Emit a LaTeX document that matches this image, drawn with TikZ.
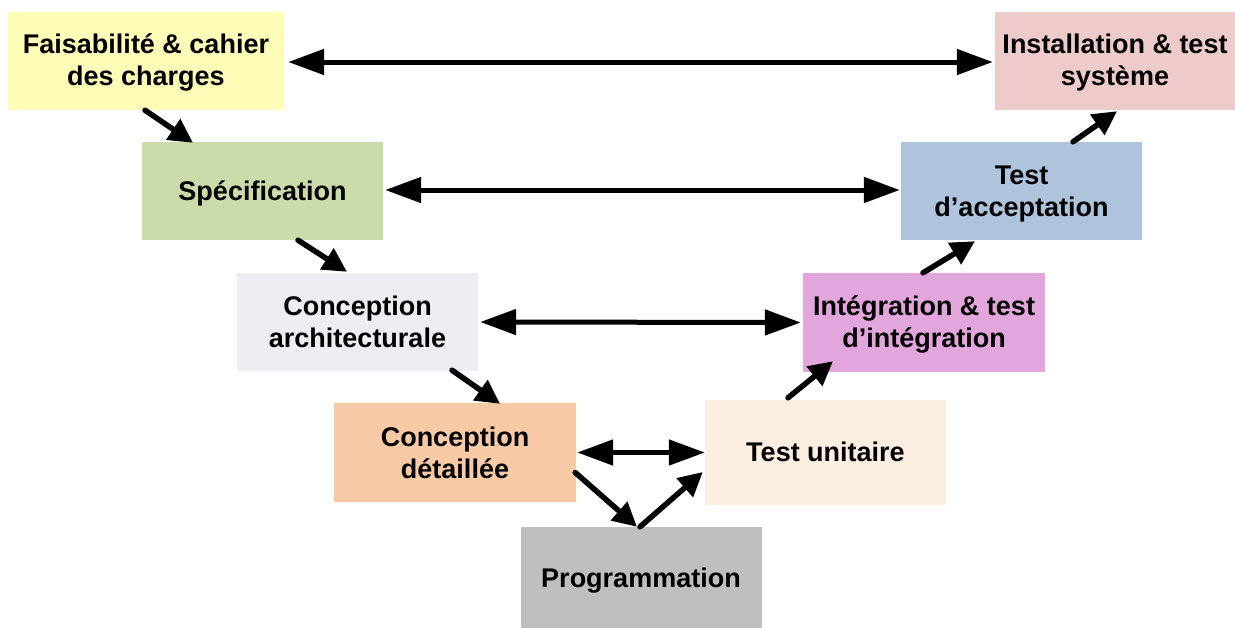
\documentclass[tikz,border=0pt]{standalone}
\usepackage{fontspec}
\setmainfont{Liberation Sans}
\usetikzlibrary{arrows.meta}

\definecolor{cFais}{HTML}{FEFDB8}
\definecolor{cSpec}{HTML}{CCDBAA}
\definecolor{cArch}{HTML}{EFEDF4}
\definecolor{cDet}{HTML}{F8CBA6}
\definecolor{cProg}{HTML}{BFBFBF}
\definecolor{cUnit}{HTML}{FDEEE2}
\definecolor{cInteg}{HTML}{E2A6DD}
\definecolor{cAcc}{HTML}{AEC3DC}
\definecolor{cInst}{HTML}{ECCBCA}

\begin{document}
\begin{tikzpicture}[x=1pt,y=-1pt,
  phase/.style={rectangle, inner sep=0pt,
    minimum width=241pt, minimum height=98pt},
  caption/.style={align=center, text=black, inner sep=0pt,
    font=\fontsize{27}{32}\selectfont\bfseries},
  pair/.style={line width=5pt,
    {Triangle[length=36pt,width=25pt]}-{Triangle[length=36pt,width=25pt]}},
  flow/.style={line width=5.5pt, line cap=round,
    -{Triangle[length=24pt,width=24pt]}}]

\useasboundingbox (0,0) rectangle (1235,627);

% descending branch of the V
\node[phase, fill=cFais, minimum width=276pt,
  label={[caption, yshift=-1pt]center:{Faisabilité \& cahier\\des charges}}] (fais) at (146,61) {};
\node[phase, fill=cSpec,
  label={[caption, yshift=-2pt]center:{Spécification}}] (spec) at (262.5,191) {};
\node[phase, fill=cArch,
  label={[caption]center:{Conception\\architecturale}}] (arch) at (357.5,322) {};
\node[phase, fill=cDet, minimum width=242pt, minimum height=99pt,
  label={[caption]center:{Conception\\détaillée}}] (det) at (455,452.5) {};
% bottom of the V (its box runs past the lower edge)
\node[phase, fill=cProg, minimum height=108pt,
  label={[caption]center:{Programmation}}] (prog) at (641,581) {};
% ascending branch of the V
\node[phase, fill=cUnit, minimum height=105pt,
  label={[caption, yshift=1pt]center:{Test unitaire}}] (unit) at (825.5,452.5) {};
\node[phase, fill=cInteg, minimum width=242pt, minimum height=99pt,
  label={[caption, yshift=-1.5pt]center:{Intégration \& test\\d’intégration}}] (integ) at (924,322.5) {};
\node[phase, fill=cAcc,
  label={[caption, yshift=-3.5pt]center:{Test\\d’acceptation}}] (acc) at (1021.5,191) {};
\node[phase, fill=cInst, minimum width=240pt,
  label={[caption, yshift=-2pt]center:{Installation \& test\\système}}] (inst) at (1115,61) {};

% correspondences between the two branches
\draw[pair] ([shift={(4,1)}]fais.east) -- ([shift={(-2,1)}]inst.west);
\draw[pair] ([shift={(2,-1)}]spec.east) -- ([shift={(-1,-1)}]acc.west);
\draw[pair] ([shift={(2,0)}]arch.east) -- ([shift={(-2,0)}]integ.west);
\draw[pair] ([shift={(1,0)}]det.east) -- ([shift={(0,0)}]unit.west);

% flow down the V
\draw[flow] ([shift={(-1,0)}]fais.south) -- ([shift={(-69.5,1)}]spec.north);
\draw[flow] ([shift={(35.5,0)}]spec.south) -- ([shift={(-10.5,-1)}]arch.north);
\draw[flow] ([shift={(94.5,-1)}]arch.south) -- ([shift={(45,1)}]det.north);
\draw[flow] ([shift={(-1,20)}]det.east) -- ([shift={(-4,0)}]prog.north);
% flow up the V
\draw[flow] ([shift={(-1,0)}]prog.north) -- ([shift={(-2,19.5)}]unit.west);
\draw[flow] ([shift={(-37.5,-2)}]unit.north) -- ([shift={(-91,-11)}]integ.south);
\draw[flow] ([shift={(-1,0)}]integ.north) -- ([shift={(-46.5,1)}]acc.south);
\draw[flow] ([shift={(51.5,0)}]acc.north) -- ([shift={(2,1)}]inst.south);
\end{tikzpicture}
\end{document}
